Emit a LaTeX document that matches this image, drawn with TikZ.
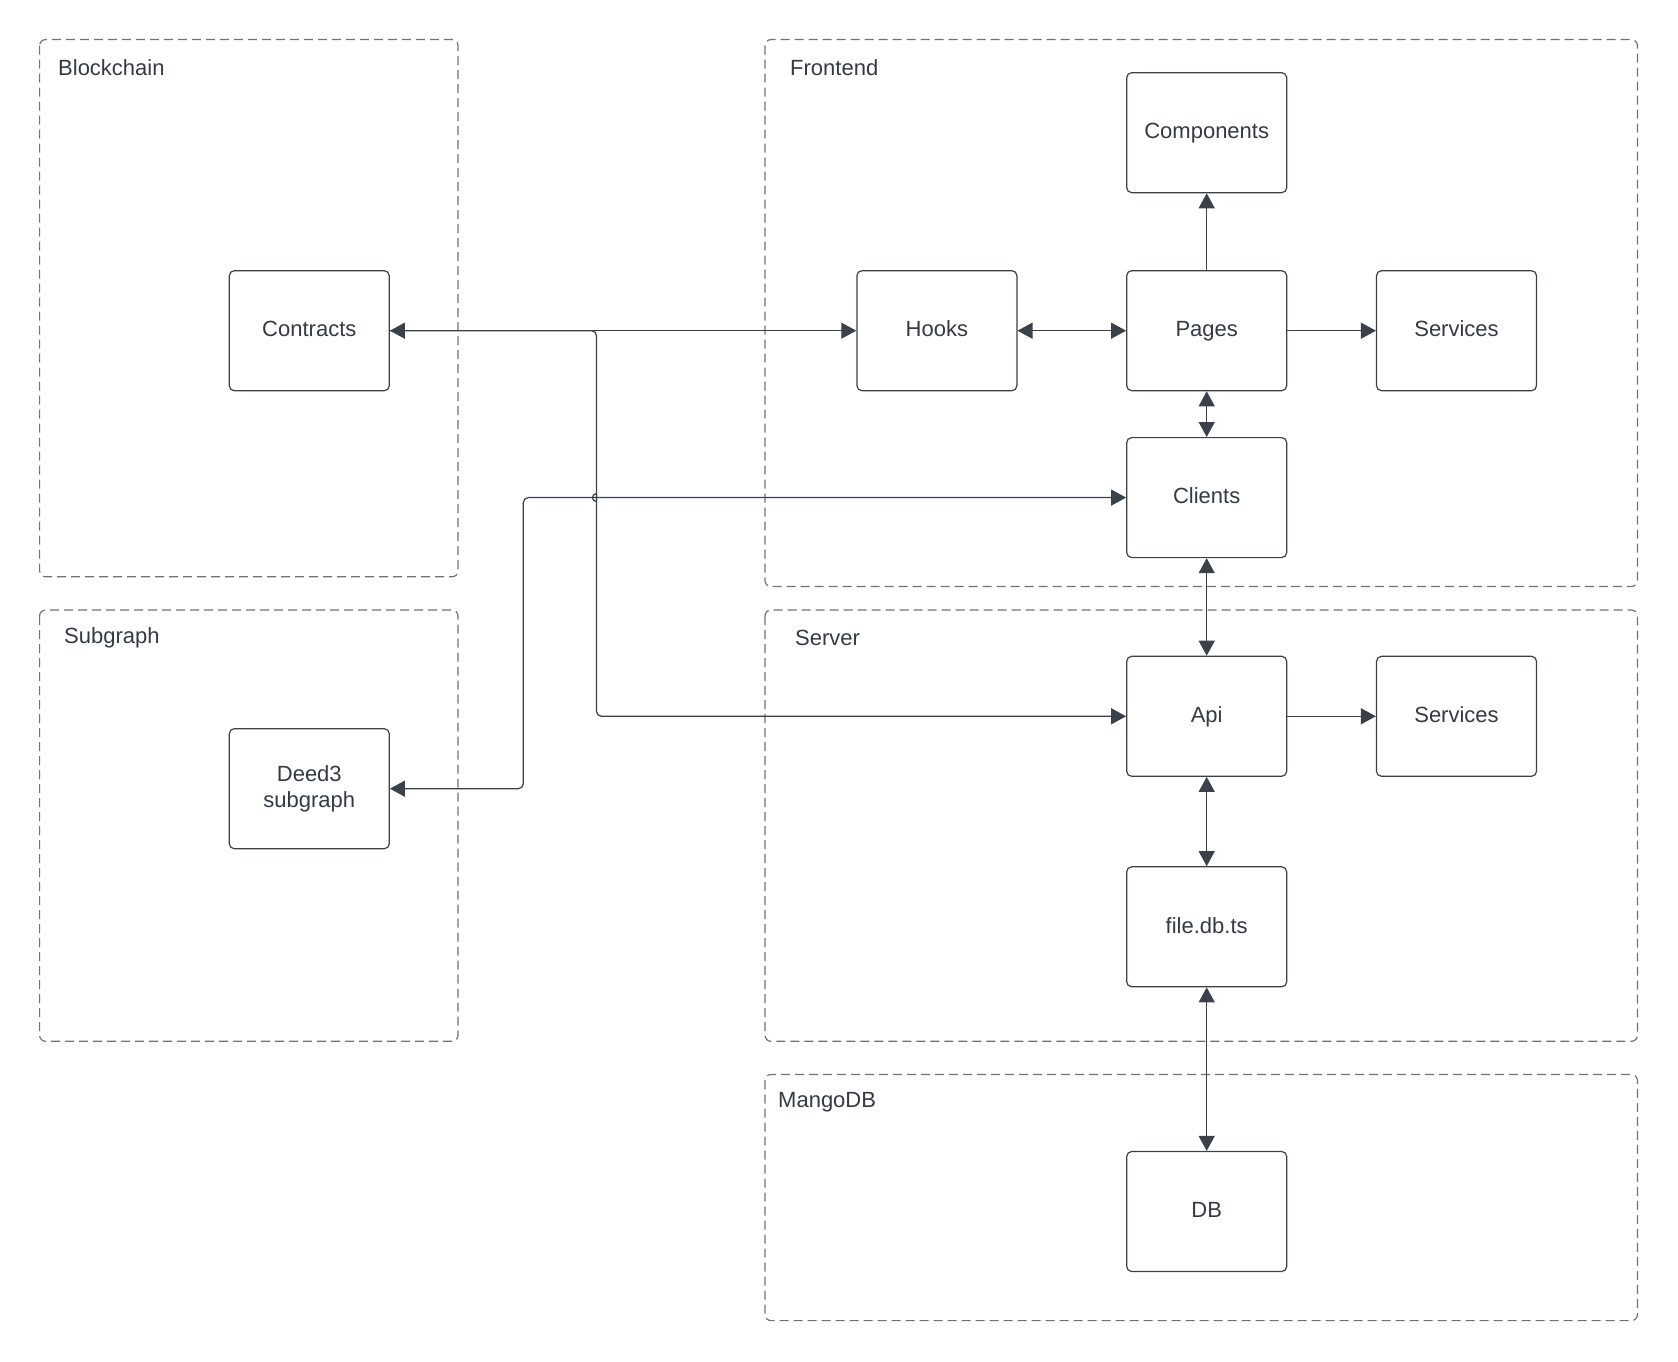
\documentclass[tikz,border=0pt]{standalone}
\usepackage{fontspec}
\setmainfont{Liberation Sans}
\usetikzlibrary{arrows.meta}
\definecolor{ink}{HTML}{3A414A}
\definecolor{txt}{HTML}{333A44}
\definecolor{frame}{HTML}{727272}
\begin{document}
\begin{tikzpicture}[x=1pt,y=-1pt,
  box/.style={draw=ink,line width=1.2pt,rounded corners=5pt,minimum width=160pt,minimum height=120pt,
    align=center,text=txt,font=\fontsize{22}{26.5}\selectfont,inner sep=0pt},
  onebox/.style={box,text height=15.5pt,text depth=3pt},
  group/.style={draw=frame,line width=1.2pt,dash pattern=on 9pt off 5pt,rounded corners=6pt},
  glabel/.style={anchor=west,text=txt,font=\fontsize{22}{26.5}\selectfont,inner sep=0pt},
  conn/.style={draw=ink,line width=1.25pt,rounded corners=5pt},
  tip/.tip={Triangle[length=15pt,width=16pt]},
  ]
\useasboundingbox (0,0) rectangle (1678,1362);
% containers
\draw[group] (39.6,39.6) rectangle (458,576.8);
\draw[group] (765,39.6) rectangle (1637.4,586.5);
\draw[group] (39.6,610) rectangle (458,1041.3);
\draw[group] (765,610) rectangle (1637.4,1041.3);
\draw[group] (765,1074.5) rectangle (1637.4,1320.6);
\node[glabel] (lblock) at (58,68) {Blockchain};
\node[glabel] (lfront) at (790,68) {Frontend};
\node[glabel] (lsub) at (64,638) {Subgraph};
\node[glabel] (lserv) at (795,638) {Server};
\node[glabel] (lmango) at (778,1102.5) {MangoDB};
% nodes
\node[onebox] (contracts) at (309.3,330.7) {Contracts};
\node[box] (deed) at (309.3,788.7) {Deed3\\subgraph};
\node[onebox] (hooks) at (936.9,330.7) {Hooks};
\node[onebox] (pages) at (1206.7,330.7) {Pages};
\node[onebox] (components) at (1206.7,132.7) {Components};
\node[onebox] (services1) at (1456.5,330.7) {Services};
\node[onebox] (clients) at (1206.7,497.6) {Clients};
\node[onebox] (api) at (1206.7,716.3) {Api};
\node[onebox] (services2) at (1456.5,716.3) {Services};
\node[onebox] (filedb) at (1206.7,926.8) {file.db.ts};
\node[onebox] (db) at (1206.7,1211.5) {DB};
% routing coordinates
\coordinate (jx) at (596.5,0);
\coordinate (dx) at (523.3,0);
% connectors
\draw[conn,{tip}-{tip}] (contracts.east) -- (hooks.west);
\draw[conn] (contracts.east) -- (contracts.east -| jx)
  -- ([yshift=-4pt]clients.west -| jx);
\draw[draw=ink,line width=1.25pt] ([yshift=-4pt]clients.west -| jx)
  .. controls ([xshift=-5.3pt,yshift=-4pt]clients.west -| jx) and ([xshift=-5.3pt,yshift=4pt]clients.west -| jx) .. ([yshift=4pt]clients.west -| jx);
\draw[conn,-{tip}] ([yshift=4pt]clients.west -| jx) -- (api.west -| jx) -- (api.west);
\draw[conn,{tip}-{tip}] (deed.east) -- (deed.east -| dx) -- (clients.west -| dx) -- (clients.west);
\draw[conn,{tip}-{tip}] (hooks.east) -- (pages.west);
\draw[conn,-{tip}] (pages.north) -- (components.south);
\draw[conn,-{tip}] (pages.east) -- (services1.west);
\draw[conn,{tip}-{tip}] (pages.south) -- (clients.north);
\draw[conn,{tip}-{tip}] (clients.south) -- (api.north);
\draw[conn,-{tip}] (api.east) -- (services2.west);
\draw[conn,{tip}-{tip}] (api.south) -- (filedb.north);
\draw[conn,{tip}-{tip}] (filedb.south) -- (db.north);
\end{tikzpicture}
\end{document}
